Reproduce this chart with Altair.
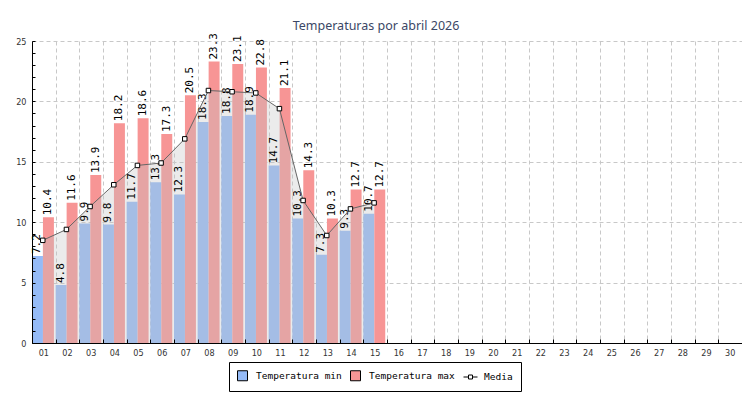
import altair as alt
import pandas as pd

# ---- data ----
all_days = [f"{d:02d}" for d in range(1, 31)]
days = [f"{d:02d}" for d in range(1, 16)]
t_min = [7.2, 4.8, 9.9, 9.8, 11.7, 13.3, 12.3, 18.3, 18.8, 18.9, 14.7, 10.3, 7.3, 9.3, 10.7]
t_max = [10.4, 11.6, 13.9, 18.2, 18.6, 17.3, 20.5, 23.3, 23.1, 22.8, 21.1, 14.3, 10.3, 12.7, 12.7]
t_med = [8.5, 9.4, 11.3, 13.1, 14.7, 14.9, 16.9, 20.9, 20.8, 20.7, 19.4, 11.8, 8.9, 11.1, 11.6]
series_names = ["Temperatura min", "Temperatura max", "Media"]
series_colors = ["#95bbf7", "#f79595", "#ffffff"]
series_strokes = ["#000000", "#000000", "#000000"]
media_symbol = "M-1.4,0H-0.4M0.4,0H1.4M-0.4,-0.4H0.4V0.4H-0.4Z"
series_shapes = ["square", "square", media_symbol]

bars_df = pd.DataFrame(
    {"day": days * 2,
     "series": [series_names[0]] * len(days) + [series_names[1]] * len(days),
     "value": t_min + t_max}
)
med_df = pd.DataFrame({"day": days, "value": t_med})
legend_df = pd.DataFrame({"series": series_names})

# ---- scales ----
x_scale = alt.Scale(domain=all_days, paddingInner=0, paddingOuter=0)
y_scale = alt.Scale(domain=[0, 25], nice=False)
off_scale = alt.Scale(domain=series_names[:2], paddingInner=0, paddingOuter=0.08, align=0)
color_scale = alt.Scale(domain=series_names, range=series_colors)
shape_scale = alt.Scale(domain=series_names, range=series_shapes)
stroke_scale = alt.Scale(domain=series_names, range=series_strokes)

LBL_FONT = "Liberation Sans Narrow, DejaVu Sans Condensed, DejaVu Sans"
GRID = dict(gridColor="#c8c8c8", gridDash=[4, 3], gridWidth=1)

# axis A: domain + labels
ax_x_a = alt.Axis(orient="bottom", domain=True, domainColor="black", domainWidth=1,
                  ticks=False, tickSize=0, grid=False, labelAngle=0, labelFont=LBL_FONT,
                  labelFontSize=9, labelColor="#333333", labelPadding=5, title=None, zindex=1)
ax_y_a = alt.Axis(orient="left", values=[0, 5, 10, 15, 20, 25], domain=True, domainColor="black",
                  domainWidth=1, ticks=False, tickSize=0, grid=False, labelFont=LBL_FONT,
                  labelFontSize=9, labelColor="#333333", labelPadding=6, title=None, zindex=1)
# axis B: grids
ax_x_b = alt.Axis(orient="bottom", domain=False, ticks=False, labels=False, grid=True,
                  tickBand="extent", title=None, zindex=0, **GRID)
ax_y_b = alt.Axis(orient="left", values=[5, 10, 15, 20, 25], domain=False, ticks=False,
                  labels=False, grid=True, title=None, zindex=0, **GRID)
# axis C: inward ticks
ax_x_c = alt.Axis(orient="bottom", domain=False, labels=False, grid=False, ticks=True,
                  tickSize=4, tickColor="black", tickBand="extent", offset=-4, title=None, zindex=1)
ax_y_c = alt.Axis(orient="left", values=list(range(0, 26)), domain=False, labels=False,
                  grid=False, ticks=True, tickSize=3, tickColor="black", offset=-3,
                  title=None, zindex=1)

BP = 0.455

leg = alt.Legend(
    orient="none", legendX=197, legendY=321, direction="horizontal", columns=3,
    title=None, strokeColor="black", fillColor="white", padding=8, cornerRadius=0,
    symbolSize=100, symbolStrokeWidth=1, symbolOpacity=1,
    labelFont="DejaVu Sans Mono", labelFontSize=9.5, labelColor="black",
    labelOffset=8, columnPadding=6,
)

legend_layer = alt.Chart(legend_df).mark_point(
    filled=True, opacity=0, strokeWidth=1
).encode(
    color=alt.Color("series:N", scale=color_scale, legend=leg, sort=series_names),
    shape=alt.Shape("series:N", scale=shape_scale, legend=leg, sort=series_names),
    stroke=alt.Stroke("series:N", scale=stroke_scale, legend=leg, sort=series_names),
)

bars = alt.Chart(bars_df).mark_bar().encode(
    x=alt.X("day:N", scale=x_scale, axis=ax_x_a, sort=all_days),
    xOffset=alt.XOffset("series:N", scale=off_scale, sort=series_names[:2]),
    y=alt.Y("value:Q", scale=y_scale, axis=ax_y_a),
    color=alt.Color("series:N", scale=color_scale, legend=leg, sort=series_names),
)

area = alt.Chart(med_df).mark_area(color="#c2c2c2", opacity=0.33).encode(
    x=alt.X("day:N", scale=x_scale, axis=ax_x_b, bandPosition=BP, sort=all_days),
    y=alt.Y("value:Q", scale=y_scale, axis=ax_y_b),
)

labels = alt.Chart(bars_df).mark_text(
    angle=270, align="left", baseline="middle", dx=2,
    font="DejaVu Sans Mono", fontSize=11, color="black",
).encode(
    x=alt.X("day:N", scale=x_scale, axis=None, sort=all_days),
    xOffset=alt.XOffset("series:N", scale=off_scale, sort=series_names[:2]),
    y=alt.Y("value:Q", scale=y_scale, axis=None),
    text=alt.Text("value:Q", format=".1f"),
)

line = alt.Chart(med_df).mark_line(color="#666666", strokeWidth=1).encode(
    x=alt.X("day:N", scale=x_scale, axis=ax_x_c, bandPosition=BP, sort=all_days),
    y=alt.Y("value:Q", scale=y_scale, axis=ax_y_c),
)

points = alt.Chart(med_df).mark_point(
    shape="square", filled=True, fill="white", stroke="black", strokeWidth=1,
    size=20, opacity=1,
).encode(
    x=alt.X("day:N", scale=x_scale, axis=None, bandPosition=BP, sort=all_days),
    y=alt.Y("value:Q", scale=y_scale, axis=None),
)

chart = alt.layer(legend_layer, bars, area, labels, line, points).resolve_axis(
    x="independent", y="independent"
).properties(
    width=710, height=302,
    padding={"left": 24, "top": 33, "right": 0, "bottom": 49},
    autosize=alt.AutoSizeParams(type="none"),
    title=alt.TitleParams(
        "Temperaturas por abril 2026", font="Noto Sans", fontSize=12.5,
        fontWeight="normal", color="#3b4766", anchor="middle", dx=-11,
        offset=12, dy=21, baseline="alphabetic",
    ),
    background="white",
).configure_view(strokeWidth=0)

chart.save("out.html", embed_options={"renderer": "svg", "actions": False})
